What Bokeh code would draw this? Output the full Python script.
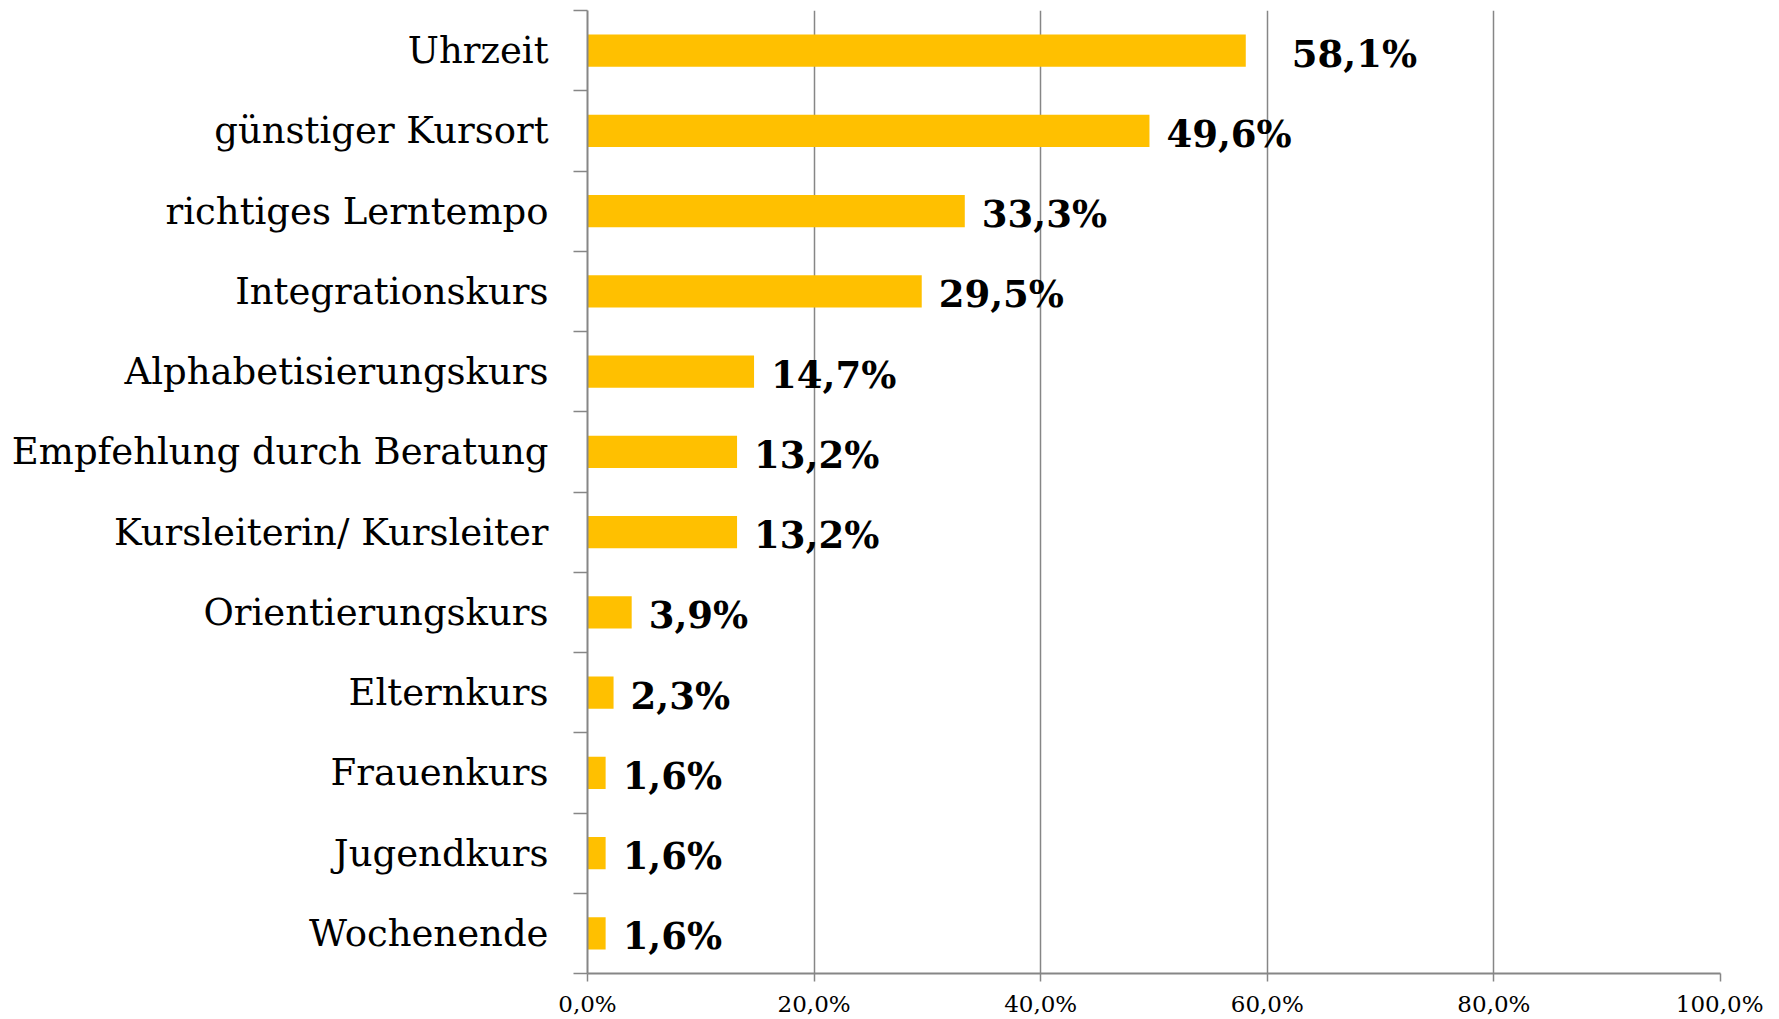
from bokeh.plotting import figure
from bokeh.models import ColumnDataSource, FixedTicker, Range1d
from bokeh.core.properties import value
from bokeh.embed import file_html
from bokeh.resources import INLINE

categories = ["Uhrzeit", "günstiger Kursort", "richtiges Lerntempo", "Integrationskurs",
              "Alphabetisierungskurs", "Empfehlung durch Beratung", "Kursleiterin/ Kursleiter",
              "Orientierungskurs", "Elternkurs", "Frauenkurs", "Jugendkurs", "Wochenende"]
values = [58.1, 49.6, 33.3, 29.5, 14.7, 13.2, 13.2, 3.9, 2.3, 1.6, 1.6, 1.6]
value_labels = ["58,1%", "49,6%", "33,3%", "29,5%", "14,7%", "13,2%", "13,2%",
                "3,9%", "2,3%", "1,6%", "1,6%", "1,6%"]
x_ticks = [0, 20, 40, 60, 80, 100]
x_tick_labels = ["0,0%", "20,0%", "40,0%", "60,0%", "80,0%", "100,0%"]

n = len(categories)
ypos = [n - 0.5 - i for i in range(n)]
offsets = [46 if i == 0 else 17 for i in range(n)]

src = ColumnDataSource(dict(y=ypos, v=values, lab=value_labels, off=offsets))

p = figure(width=1763, height=1019, output_backend="svg", toolbar_location=None,
           x_range=Range1d(0, 100), y_range=Range1d(0, n),
           min_border_left=587, min_border_right=43, min_border_top=10, min_border_bottom=45)
p.outline_line_color = None
p.background_fill_color = "white"
p.border_fill_color = "white"

p.hbar(y="y", right="v", left=0, height=0.4, source=src, color="#FFC000", line_color=None)
p.text(x="v", y="y", text="lab", source=src, x_offset="off", y_offset=3,
       text_font=value("DejaVu Serif"), text_font_style="bold", text_font_size="37px",
       text_baseline="middle", text_align="left", text_color="black")

# x axis
p.xaxis.ticker = FixedTicker(ticks=x_ticks)
p.xaxis.major_label_overrides = {t: l for t, l in zip(x_ticks, x_tick_labels)}
p.xaxis.major_label_text_font = "DejaVu Serif"
p.xaxis.major_label_text_font_size = "23px"
p.xaxis.major_label_text_color = "black"
p.xaxis.axis_line_color = "#868686"
p.xaxis.axis_line_width = 2
p.xaxis.major_tick_line_color = "#868686"
p.xaxis.major_tick_line_width = 1.5
p.xaxis.major_tick_out = 8
p.xaxis.major_tick_in = 0
p.xaxis.minor_tick_line_color = None
p.xaxis.major_label_standoff = 9

# y axis: labels at category centres, ticks at boundaries
p.yaxis.ticker = FixedTicker(ticks=ypos, minor_ticks=list(range(n + 1)))
p.yaxis.major_label_overrides = {y: c for y, c in zip(ypos, categories)}
p.yaxis.major_label_text_font = "DejaVu Serif"
p.yaxis.major_label_text_font_size = "37px"
p.yaxis.major_label_text_color = "black"
p.yaxis.major_tick_line_color = None
p.yaxis.major_tick_out = 0
p.yaxis.major_tick_in = 0
p.yaxis.minor_tick_line_color = "#868686"
p.yaxis.minor_tick_line_width = 1.5
p.yaxis.minor_tick_out = 14
p.yaxis.minor_tick_in = 0
p.yaxis.axis_line_color = "#868686"
p.yaxis.axis_line_width = 2
p.yaxis.major_label_standoff = 25

p.xgrid.ticker = FixedTicker(ticks=[20, 40, 60, 80, 100])
p.xgrid.grid_line_color = "#868686"
p.xgrid.grid_line_width = 1.5
p.ygrid.grid_line_color = None

open("out.html", "w").write(file_html(p, INLINE))
